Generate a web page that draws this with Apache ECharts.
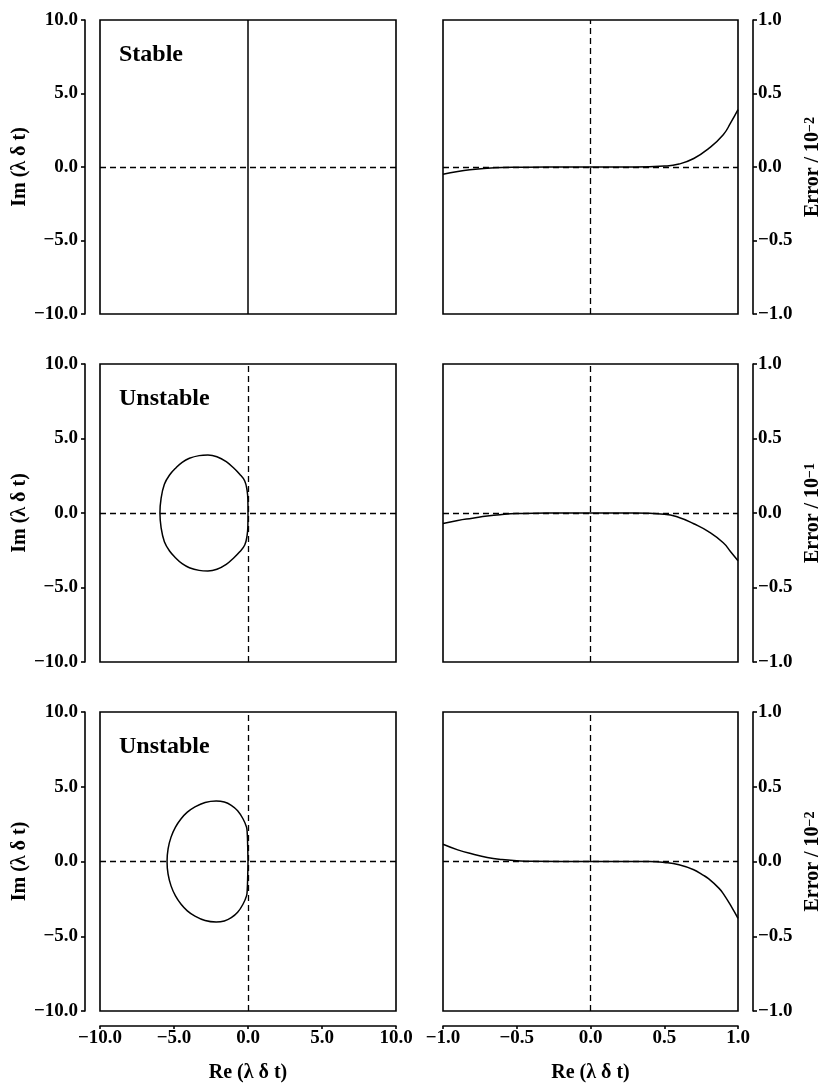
<!DOCTYPE html>
<html>
<head>
<meta charset="utf-8">
<script src="https://cdn.jsdelivr.net/npm/echarts@6/dist/echarts.min.js"></script>
<style>
html,body{margin:0;padding:0;background:#fff;}
#box{width:831px;height:1092px;}
</style>
</head>
<body>
<div id="box"></div>
<script>
// 稳定区域边界 (Re, Im)
var stableRe = [0, 0];
var stableIm = [-10, 10];
// 不稳定区域边界 1 (从原点向上, 逆时针绕一圈)
var unstable1Re = [0, -0.01, -0.06, -0.22, -0.56, -1.0, -1.47, -2.1, -2.71, -3.3, -3.96, -4.45, -4.86, -5.3, -5.65, -5.87, -5.95,
	-5.87, -5.65, -5.3, -4.86, -4.45, -3.96, -3.3, -2.71, -2.1, -1.47, -1.0, -0.56, -0.22, -0.06, -0.01, 0];
var unstable1Im = [0, 0.9, 1.5, 2.15, 2.6, 3.05, 3.45, 3.78, 3.89, 3.85, 3.67, 3.4, 3.04, 2.55, 1.93, 1.0, 0,
	-1.0, -1.93, -2.55, -3.04, -3.4, -3.67, -3.85, -3.89, -3.78, -3.45, -3.05, -2.6, -2.15, -1.5, -0.9, 0];
// 不稳定区域边界 2
var unstable2Re = [0, -0.02, -0.05, -0.1, -0.34, -0.7, -1.13, -1.6, -2.15, -2.9, -3.61, -4.1, -4.52, -4.9, -5.2, -5.4, -5.47,
	-5.4, -5.2, -4.9, -4.52, -4.1, -3.61, -2.9, -2.15, -1.6, -1.13, -0.7, -0.34, -0.1, -0.05, -0.02, 0];
var unstable2Im = [0, 1.0, 1.86, 2.3, 2.86, 3.4, 3.76, 3.98, 4.05, 3.95, 3.64, 3.3, 2.86, 2.3, 1.63, 0.85, 0,
	-0.85, -1.63, -2.3, -2.86, -3.3, -3.64, -3.95, -4.05, -3.98, -3.76, -3.4, -2.86, -2.3, -1.86, -1.0, 0];
// 误差曲线
var err1X = [-1, -0.9, -0.8, -0.7, -0.6, -0.5, -0.3, 0, 0.3, 0.5, 0.6, 0.7, 0.8, 0.9, 0.95, 1];
var err1Y = [-0.05, -0.03, -0.017, -0.009, -0.004, -0.002, 0, 0, 0, 0.006, 0.02, 0.058, 0.125, 0.22, 0.3, 0.39];
var err2X = [-1, -0.9, -0.8, -0.7, -0.6, -0.5, -0.3, 0, 0.3, 0.5, 0.6, 0.7, 0.8, 0.9, 0.95, 1];
var err2Y = [-0.07, -0.05, -0.035, -0.02, -0.01, -0.004, 0, 0, 0, -0.008, -0.03, -0.072, -0.125, -0.2, -0.26, -0.32];
var err3X = [-1, -0.9, -0.8, -0.7, -0.6, -0.5, -0.4, 0, 0.4, 0.5, 0.6, 0.7, 0.76, 0.8, 0.87, 0.9, 0.96, 1];
var err3Y = [0.115, 0.078, 0.05, 0.027, 0.013, 0.005, 0.001, 0, 0, -0.006, -0.022, -0.055, -0.089, -0.115, -0.178, -0.215, -0.31, -0.38];
var panelLabels = ['Stable', 'Unstable', 'Unstable'];
var errorExp = ['−2', '−1', '−2'];

function zip(a, b){
	var out = [];
	for (var i = 0; i < a.length; i++) out.push([a[i], b[i]]);
	return out;
}
function fmt(v){
	return (v < 0 ? '−' : '') + Math.abs(v).toFixed(1);
}

var FONT = 'Liberation Serif';
var rows = [{top: 20, height: 294}, {top: 364, height: 298}, {top: 712, height: 299}];
var curves = [
	{re: stableRe, im: stableIm, ex: err1X, ey: err1Y},
	{re: unstable1Re, im: unstable1Im, ex: err2X, ey: err2Y},
	{re: unstable2Re, im: unstable2Im, ex: err3X, ey: err3Y}
];

var grid = [], xAxis = [], yAxis = [], series = [], title = [];
var labelStyle = {color: '#000', fontFamily: FONT, fontWeight: 'bold', fontSize: 19};
var nameStyle = {color: '#000', fontFamily: FONT, fontWeight: 'bold', fontSize: 20};
var dash = {type: [6, 4], color: '#000', width: 1.3};
var axLine = {show: true, onZero: false, lineStyle: {color: '#000', width: 1.6}};
var axTick = {show: true, length: 4, lineStyle: {color: '#000', width: 1.6}};
var xTick = {show: true, length: 3, lineStyle: {color: '#000', width: 1.6}};

rows.forEach(function(r, i){
	var last = i === rows.length - 1;
	grid.push({left: 100, width: 296, top: r.top, height: r.height, show: true, borderColor: '#000', borderWidth: 1.6, backgroundColor: 'transparent'});
	grid.push({left: 443, width: 295, top: r.top, height: r.height, show: true, borderColor: '#000', borderWidth: 1.6, backgroundColor: 'transparent'});

	// 左图
	xAxis.push({
		gridIndex: 2 * i, type: 'value', min: -10, max: 10, interval: 5, show: last,
		position: 'bottom', offset: 15,
		axisLine: axLine, axisTick: xTick,
		axisLabel: {formatter: fmt, margin: 3, textStyle: labelStyle},
		splitLine: {show: false},
		name: 'Re (λ δ t)', nameLocation: 'middle', nameGap: 37, nameTextStyle: nameStyle
	});
	yAxis.push({
		gridIndex: 2 * i, type: 'value', min: -10, max: 10, interval: 5,
		position: 'left', offset: 15,
		axisLine: axLine, axisTick: axTick,
		axisLabel: {formatter: fmt, margin: 7, textStyle: labelStyle},
		splitLine: {show: false},
		name: 'Im (λ δ t)', nameLocation: 'middle', nameGap: 54, nameTextStyle: nameStyle
	});
	// 右图
	xAxis.push({
		gridIndex: 2 * i + 1, type: 'value', min: -1, max: 1, interval: 0.5, show: last,
		position: 'bottom', offset: 15,
		axisLine: axLine, axisTick: xTick,
		axisLabel: {formatter: fmt, margin: 3, textStyle: labelStyle},
		splitLine: {show: false},
		name: 'Re (λ δ t)', nameLocation: 'middle', nameGap: 37, nameTextStyle: nameStyle
	});
	yAxis.push({
		gridIndex: 2 * i + 1, type: 'value', min: -1, max: 1, interval: 0.5,
		position: 'right', offset: 15,
		axisLine: axLine, axisTick: axTick,
		axisLabel: {formatter: fmt, margin: 5, textStyle: labelStyle},
		splitLine: {show: false},
		name: 'Error / 10{sup|' + errorExp[i] + '}', nameLocation: 'middle', nameGap: 50, nameRotate: 90,
		nameTextStyle: {color: '#000', fontFamily: FONT, fontWeight: 'bold', fontSize: 20,
			rich: {sup: {fontFamily: FONT, fontWeight: 'bold', fontSize: 14, verticalAlign: 'top', color: '#000'}}}
	});

	var c = curves[i];
	series.push({
		type: 'line', xAxisIndex: 2 * i, yAxisIndex: 2 * i,
		data: zip(c.re, c.im), showSymbol: false, smooth: i === 0 ? false : 0.4,
		lineStyle: {color: '#000', width: 1.5}, animation: false,
		markLine: {silent: true, symbol: 'none', label: {show: false}, lineStyle: dash,
			data: i === 0 ? [{yAxis: 0}] : [{xAxis: 0}, {yAxis: 0}]}
	});
	series.push({
		type: 'line', xAxisIndex: 2 * i + 1, yAxisIndex: 2 * i + 1,
		data: zip(c.ex, c.ey), showSymbol: false, smooth: true,
		lineStyle: {color: '#000', width: 1.5}, animation: false,
		markLine: {silent: true, symbol: 'none', label: {show: false}, lineStyle: dash,
			data: [{xAxis: 0}, {yAxis: 0}]}
	});

	title.push({text: panelLabels[i], left: 114, top: r.top + 18,
		textStyle: {color: '#000', fontFamily: FONT, fontWeight: 'bold', fontSize: 24}});
});

var chart = echarts.init(document.getElementById('box'));
chart.setOption({
	animation: false,
	backgroundColor: '#fff',
	title: title,
	grid: grid,
	xAxis: xAxis,
	yAxis: yAxis,
	series: series
});
</script>
</body>
</html>
